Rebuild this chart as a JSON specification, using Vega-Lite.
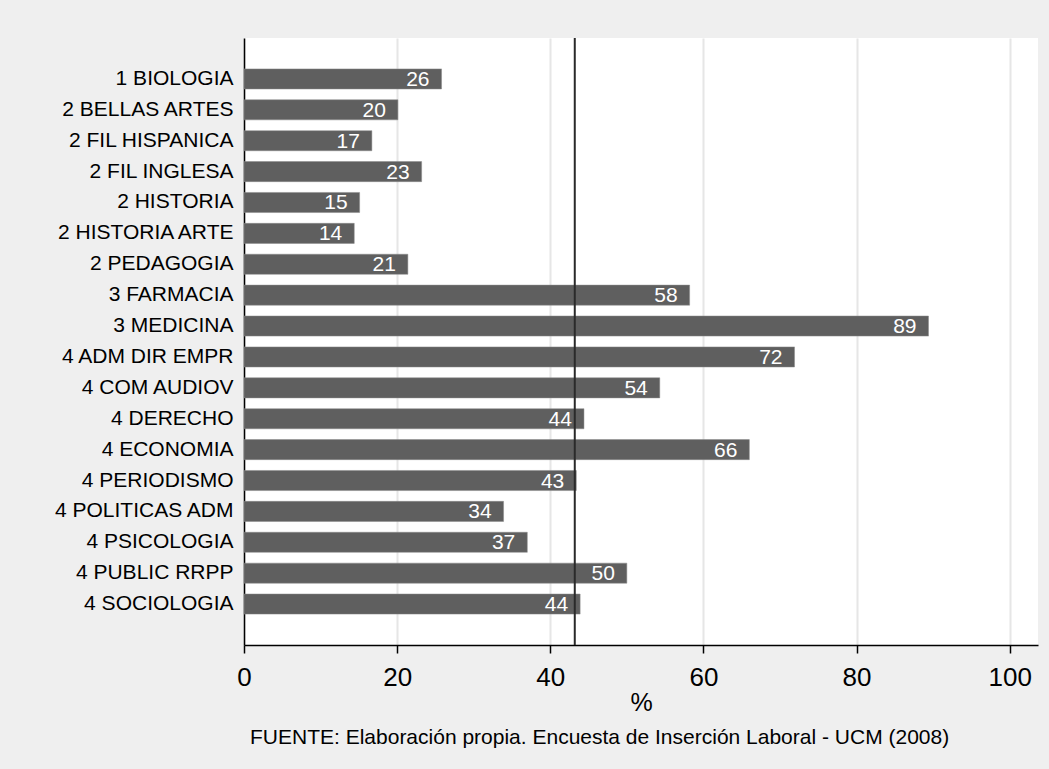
{
  "$schema": "https://vega.github.io/schema/vega-lite/v6.json",
  "width": 794,
  "height": 607,
  "autosize": {"type": "none"},
  "padding": {"left": 244, "top": 38, "right": 11, "bottom": 124},
  "background": "#efefef",
  "config": {
    "view": {"fill": "white", "stroke": null},
    "font": "Liberation Sans"
  },
  "title": {
    "text": "FUENTE: Elaboración propia. Encuesta de Inserción Laboral - UCM (2008)",
    "orient": "bottom",
    "anchor": "start",
    "frame": "group",
    "dx": 6,
    "offset": 12,
    "fontSize": 21,
    "fontWeight": "normal",
    "color": "#000000",
    "font": "Liberation Sans"
  },
  "data": {
    "values": [
      {"carrera": "1 BIOLOGIA", "pct": 25.8},
      {"carrera": "2 BELLAS ARTES", "pct": 20.1},
      {"carrera": "2 FIL HISPANICA", "pct": 16.7},
      {"carrera": "2 FIL INGLESA", "pct": 23.2},
      {"carrera": "2 HISTORIA", "pct": 15.1},
      {"carrera": "2 HISTORIA ARTE", "pct": 14.4},
      {"carrera": "2 PEDAGOGIA", "pct": 21.4},
      {"carrera": "3 FARMACIA", "pct": 58.2},
      {"carrera": "3 MEDICINA", "pct": 89.4},
      {"carrera": "4 ADM DIR EMPR", "pct": 71.9},
      {"carrera": "4 COM AUDIOV", "pct": 54.3},
      {"carrera": "4 DERECHO", "pct": 44.4},
      {"carrera": "4 ECONOMIA", "pct": 66.0},
      {"carrera": "4 PERIODISMO", "pct": 43.4},
      {"carrera": "4 POLITICAS ADM", "pct": 33.9},
      {"carrera": "4 PSICOLOGIA", "pct": 37.0},
      {"carrera": "4 PUBLIC RRPP", "pct": 50.0},
      {"carrera": "4 SOCIOLOGIA", "pct": 43.9}
    ]
  },
  "layer": [
    {
      "mark": {"type": "bar", "color": "#5f5f5f", "stroke": "#8a8a8a", "strokeWidth": 0.5},
      "encoding": {
        "y": {
          "field": "carrera", "type": "nominal", "sort": null,
          "scale": {"paddingInner": 0.35, "paddingOuter": 1.0},
          "axis": {
            "title": null, "ticks": false, "labelPadding": 11,
            "labelFontSize": 21, "labelColor": "#000000", "labelFont": "Liberation Sans",
            "domainColor": "#000000", "domainWidth": 1.5, "labelLimit": 300
          }
        },
        "x": {
          "field": "pct", "type": "quantitative",
          "scale": {"domain": [0, 103.7], "nice": false, "zero": true},
          "axis": {
            "title": "%", "values": [0, 20, 40, 60, 80, 100],
            "labelFontSize": 26, "labelColor": "#000000", "labelFont": "Liberation Sans",
            "labelPadding": 11, "tickSize": 8, "tickColor": "#000000", "tickWidth": 1.5,
            "domainColor": "#000000", "domainWidth": 1.5,
            "titleFontSize": 25, "titleFontWeight": "normal", "titleColor": "#000000",
            "titleFont": "Liberation Sans", "titlePadding": 0,
            "grid": true, "gridColor": "#e6e6e6", "gridWidth": 2,
            "labelFlush": false
          }
        }
      }
    },
    {
      "mark": {"type": "text", "align": "right", "baseline": "middle", "dx": -12, "dy": 1, "color": "white", "fontSize": 21, "font": "Liberation Sans"},
      "encoding": {
        "y": {"field": "carrera", "type": "nominal", "sort": null},
        "x": {"field": "pct", "type": "quantitative"},
        "text": {"field": "pct", "type": "quantitative", "format": ".0f"}
      }
    },
    {
      "data": {"values": [{"media": 43.2}]},
      "mark": {"type": "rule", "color": "#2a2a2a", "strokeWidth": 2},
      "encoding": {
        "x": {"field": "media", "type": "quantitative"}
      }
    }
  ]
}
